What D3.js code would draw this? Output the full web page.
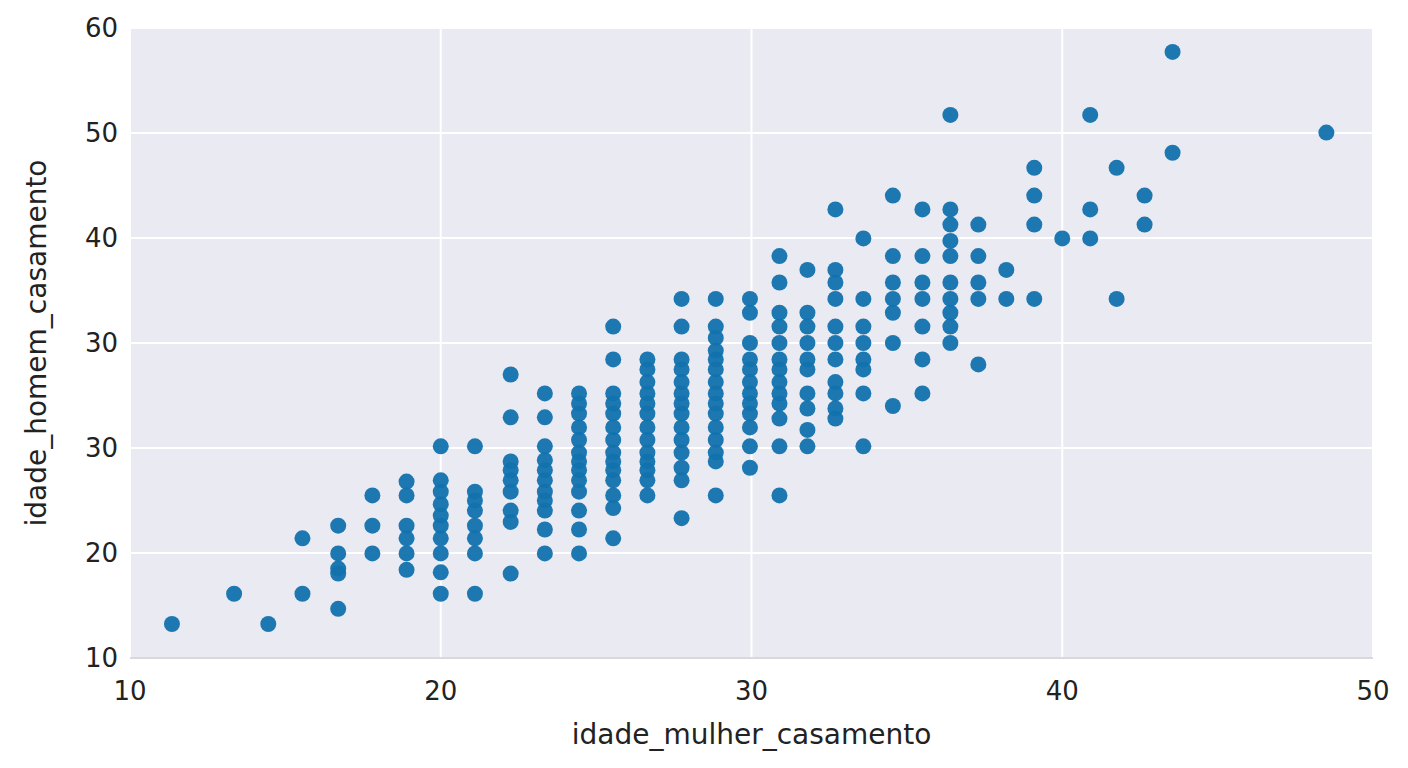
<!DOCTYPE html>
<html><head><meta charset="utf-8">
<script src="https://cdn.jsdelivr.net/npm/d3@7"></script>
<style>body{margin:0;background:#fff}text{font-family:"DejaVu Sans",sans-serif;fill:#222}</style>
</head><body><svg id="c" width="1408" height="768"></svg>
<script>
const xCols=[11.35,13.35,14.45,15.55,16.7,17.8,18.9,20.0,21.1,22.25,23.35,24.45,25.55,26.65,27.75,28.85,29.95,30.9,31.8,32.7,33.6,34.55,35.5,36.4,37.3,38.2,39.1,40.0,40.9,41.75,42.65,43.55,48.5];
const yCols=[
[12.7],[15.1],[12.7],[19.5,15.1],
[20.5,18.3,17.1,16.7,13.9],
[22.9,20.5,18.3],
[24.0,22.9,20.5,19.5,18.3,17.0],
[26.8,24.1,23.2,22.2,21.3,20.5,19.5,18.3,16.8,15.1],
[26.8,23.2,22.5,21.7,20.5,19.5,18.3,15.1],
[32.5,29.1,25.6,24.9,24.1,23.2,21.7,20.8,16.7],
[31.0,29.1,26.8,25.7,24.9,24.1,23.2,22.5,21.7,20.2,18.3],
[31.0,30.2,29.4,28.3,27.3,26.3,25.6,24.9,24.1,23.2,21.7,20.2,18.3],
[36.3,33.7,31.0,30.2,29.4,28.3,27.3,26.3,25.6,24.9,24.1,22.9,21.9,19.5],
[33.7,32.9,31.9,31.0,30.2,29.4,28.3,27.3,26.3,25.6,24.9,24.1,22.9],
[38.5,36.3,33.7,32.9,31.9,31.0,30.2,29.4,28.3,27.3,26.3,25.1,24.1,21.1],
[38.5,36.3,35.4,34.4,33.7,32.9,31.9,31.0,30.2,29.4,28.3,27.3,26.3,25.6,22.9],
[38.5,37.4,35.0,33.7,32.9,31.9,31.0,30.2,29.4,28.3,26.8,25.1],
[41.9,39.8,37.4,36.3,35.0,33.7,32.9,31.9,31.0,30.2,29.0,26.8,22.9],
[40.8,37.4,36.3,35.0,33.7,32.9,31.0,29.8,28.1,26.8],
[45.6,40.8,39.8,38.5,36.3,35.0,33.7,31.9,31.0,29.8,29.0],
[43.3,38.5,36.3,35.0,33.7,32.9,31.0,26.8],
[46.7,41.9,39.8,38.5,37.4,35.0,30.0],
[45.6,41.9,39.8,38.5,36.3,33.7,31.0],
[53.1,45.6,44.4,43.1,41.9,39.8,38.5,37.4,36.3,35.0],
[44.4,41.9,39.8,38.5,33.3],
[40.8,38.5],
[48.9,46.7,44.4,38.5],
[43.3],
[53.1,45.6,43.3],
[48.9,38.5],
[46.7,44.4],
[58.1,50.1],
[51.7]];
const yTickLabels=["10","20","20","30","30","40","50","60"].filter((d,i)=>i!==2);
const xTicks=[10,20,30,40,50];
const pts=[];xCols.forEach((x,i)=>yCols[i].forEach(y=>pts.push([x,y])));
const L=130,R=1373,T=28,B=658;
const x=d3.scaleLinear().domain([10,50]).range([L,R]);
const y=d3.scaleLinear().domain([10,60]).range([B,T]);
const yTicks=d3.range(7).map(k=>10+k*50/6);
const svg=d3.select("#c");
svg.append("rect").attr("x",L).attr("y",T).attr("width",R-L).attr("height",B-T).attr("fill","#eaeaf2");
const g=svg.append("g");
g.selectAll(".vx").data(xTicks).join("line").attr("x1",x).attr("x2",x).attr("y1",T).attr("y2",B).attr("stroke","#fff").attr("stroke-width",2);
g.selectAll(".hy").data(yTicks).join("line").attr("y1",y).attr("y2",y).attr("x1",L).attr("x2",R).attr("stroke","#fff").attr("stroke-width",2);
svg.append("line").attr("x1",L).attr("x2",R).attr("y1",B).attr("y2",B).attr("stroke","#ccc").attr("stroke-width",1.5);
svg.append("g").selectAll("circle").data(pts).join("circle").attr("cx",d=>x(d[0])).attr("cy",d=>y(d[1])).attr("r",8).attr("fill","#1272ae").attr("opacity",0.95);
svg.append("g").selectAll("text").data(xTicks).join("text").attr("x",x).attr("y",B+42).attr("text-anchor","middle").attr("font-size",26).text(d=>d);
svg.append("g").selectAll("text").data(yTicks).join("text").attr("x",L-12).attr("y",d=>y(d)+9).attr("text-anchor","end").attr("font-size",26).text((d,i)=>yTickLabels[i]);
svg.append("text").attr("x",(L+R)/2).attr("y",744).attr("text-anchor","middle").attr("font-size",28).text("idade_mulher_casamento");
svg.append("text").attr("transform",`translate(46,${(T+B)/2}) rotate(-90)`).attr("text-anchor","middle").attr("font-size",28).text("idade_homem_casamento");
</script></body></html>
